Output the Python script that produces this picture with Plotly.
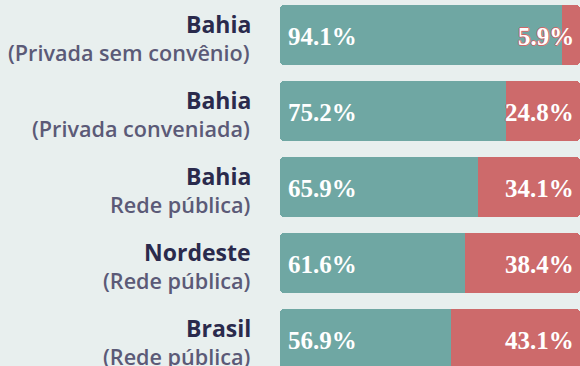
import plotly.graph_objects as go

# Data
regions = ["Bahia", "Bahia", "Bahia", "Nordeste", "Brasil"]
networks = ["(Privada sem convênio)", "(Privada conveniada)", "Rede pública)",
            "(Rede pública)", "(Rede pública)"]
share_a = [94.1, 75.2, 65.9, 61.6, 56.9]
share_b = [5.9, 24.8, 34.1, 38.4, 43.1]
total = [a + b for a, b in zip(share_a, share_b)]

TEAL = "#6fa7a3"
RED = "#cd6a6b"
BG = "#e8efee"
NAVY = "#2a2a4c"
SUB = "#5b5a77"

W, H = 580, 366
LEFT = 280
PITCH = 76          # px between row centres
BAR_PX = 60         # bar thickness in px
FIRST_CENTER = 35   # px from top to first row centre
RADIUS = 4

rows = list(range(len(regions)))
bar_w = BAR_PX / PITCH

fig = go.Figure()

# Full-length rounded track (floating bar => both ends rounded), shows as the teal share
fig.add_trace(go.Bar(
    y=rows, x=total, base=[0] * len(rows), orientation="h", width=bar_w,
    marker=dict(color=TEAL, cornerradius=RADIUS, line_width=0),
    hoverinfo="skip", showlegend=False,
))
# Stacked on top: the teal share as a spacer, then the red share (only outer end rounded)
fig.add_trace(go.Bar(
    y=rows, x=share_a, orientation="h", width=bar_w, xaxis="x2", yaxis="y2",
    marker=dict(color="rgba(0,0,0,0)", cornerradius=RADIUS, line_width=0),
    hoverinfo="skip", showlegend=False,
))
fig.add_trace(go.Bar(
    y=rows, x=share_b, orientation="h", width=bar_w, xaxis="x2", yaxis="y2",
    marker=dict(color=RED, cornerradius=RADIUS, line_width=0),
    hoverinfo="skip", showlegend=False,
))


def outline(color):
    return f"1px 0 0 {color}, -1px 0 0 {color}, 0 1px 0 {color}, 0 -1px 0 {color}"


annotations = []
for i in rows:
    # value labels
    annotations.append(dict(
        x=0, y=i, xref="x", yref="y", text=f"{share_a[i]:.1f}%", showarrow=False,
        xanchor="left", yanchor="middle", xshift=6, yshift=-1,
        font=dict(family="Liberation Serif", size=25, color="white", weight="bold",
                  shadow=outline(TEAL)),
    ))
    annotations.append(dict(
        x=total[i], y=i, xref="x", yref="y", text=f"{share_b[i]:.1f}%",
        showarrow=False, xanchor="right", yanchor="middle", xshift=-4, yshift=-1,
        font=dict(family="Liberation Serif", size=25, color="white", weight="bold",
                  shadow=outline(RED)),
    ))
    # row labels
    annotations.append(dict(
        x=0, y=i, xref="paper", yref="y", text=f"<b>{regions[i]}</b>", showarrow=False,
        xanchor="right", yanchor="middle", xshift=-27, yshift=11,
        font=dict(family="Open Sans", size=23, color=NAVY),
    ))
    annotations.append(dict(
        x=0, y=i, xref="paper", yref="y", text=networks[i], showarrow=False,
        xanchor="right", yanchor="middle", xshift=-28, yshift=-17,
        font=dict(family="Open Sans", size=21.6, color=SUB, weight=600),
    ))

y_top = -FIRST_CENTER / PITCH
y_bottom = (H - FIRST_CENTER) / PITCH

fig.update_layout(
    width=W, height=H,
    margin=dict(l=LEFT, r=0, t=0, b=0),
    paper_bgcolor=BG, plot_bgcolor=BG,
    barmode="stack",
    xaxis=dict(range=[0, 100], visible=False, fixedrange=True),
    yaxis=dict(range=[y_bottom, y_top], visible=False, fixedrange=True),
    xaxis2=dict(range=[0, 100], visible=False, fixedrange=True, overlaying="x"),
    yaxis2=dict(range=[y_bottom, y_top], visible=False, fixedrange=True, overlaying="y"),
    annotations=annotations,
)

fig.write_html("out.html")
